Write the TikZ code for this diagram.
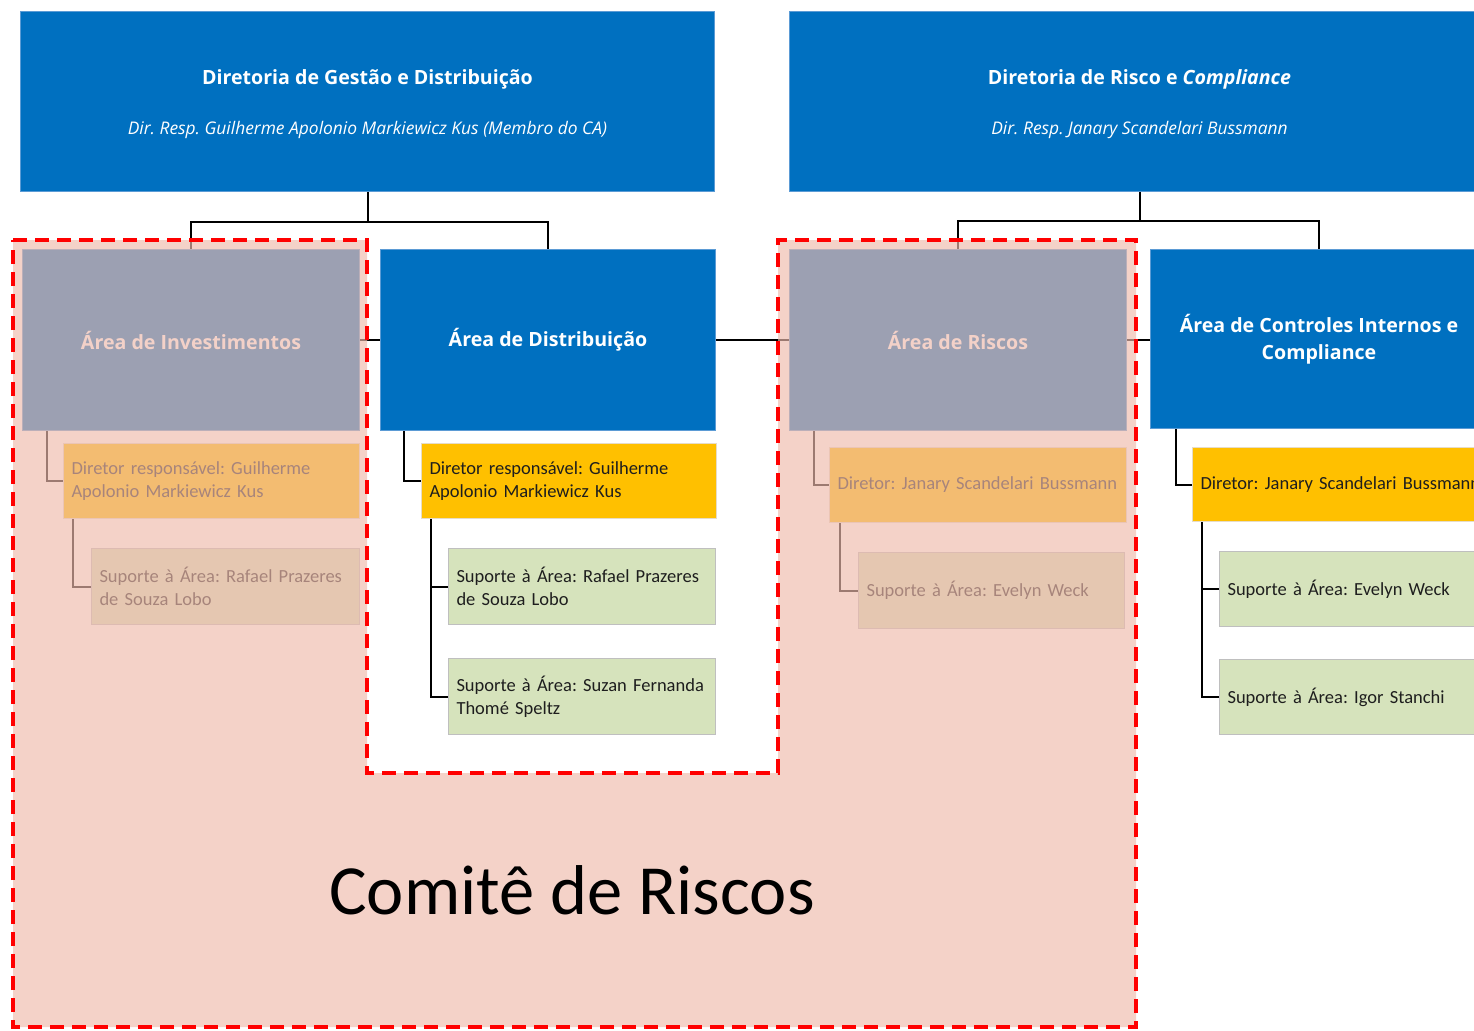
\documentclass[tikz,border=0pt]{standalone}
\usepackage{fontspec}
\setmainfont{Carlito}
\newfontfamily\titlefont{Open Sans}
\usetikzlibrary{calc}
\definecolor{cblue}{RGB}{0,112,192}
\definecolor{cblueb}{RGB}{91,155,213}
\definecolor{cyel}{RGB}{255,192,0}
\definecolor{cyelb}{RGB}{230,220,200}
\definecolor{cgreen}{RGB}{214,227,188}
\definecolor{cgreenb}{RGB}{191,191,191}
\definecolor{ctxt}{RGB}{30,30,30}
\definecolor{cpink}{RGB}{238,186,172}
\definecolor{cred}{RGB}{255,0,0}
\tikzset{
  conn/.style={draw=black, line width=2pt},
  anybox/.style={rectangle, anchor=north west, inner xsep=8pt, inner ysep=0pt, line width=1pt},
  topbox/.style={anybox, fill=cblue, draw=cblueb, text=white, align=center, font=\titlefont\fontsize{19.6}{24}\selectfont\bfseries},
  areabox/.style={anybox, fill=cblue, draw=cblueb, text=white, align=center, font=\titlefont\fontsize{19.6}{27}\selectfont\bfseries},
  dirbox/.style={anybox, fill=cyel, draw=cyelb, text=ctxt, align=left, font=\fontsize{18.5}{23}\selectfont},
  supbox/.style={anybox, fill=cgreen, draw=cgreenb, text=ctxt, align=left, font=\fontsize{18.5}{23}\selectfont},
  comite/.style={draw=cred, line width=4pt, dash pattern=on 14pt off 8pt},
}
\begin{document}
\frenchspacing
\begin{tikzpicture}[x=1pt,y=-1pt]
\useasboundingbox (0,0) rectangle (1474,1030);
\clip (0,0) rectangle (1474,1030);
% top level
\node[topbox, minimum width=694, minimum height=180] (top1) at (20,11)
  {\rule{0pt}{20pt}Diretoria de Gestão e Distribuição\\[26pt]{\fontsize{17.4}{20}\selectfont\mdseries\itshape Dir. Resp. Guilherme Apolonio Markiewicz Kus (Membro do CA)}};
\node[topbox, minimum width=700, minimum height=180] (top2) at (789,11)
  {\rule{0pt}{20pt}Diretoria de Risco e \textit{Compliance}\\[26pt]{\fontsize{17.4}{20}\selectfont\mdseries\itshape Dir. Resp. Janary Scandelari Bussmann}};
% level 2
\node[areabox, minimum width=337, minimum height=181] (inv) at (22,249) {Área de Investimentos};
\node[areabox, minimum width=335, minimum height=181] (dist) at (380,249) {Área de Distribuição};
\node[areabox, minimum width=337, minimum height=181] (risk) at (789,249) {Área de Riscos};
\node[areabox, minimum width=337, minimum height=179] (ctrl) at (1150,249) {Área de Controles Internos e\\Compliance};
% level 3
\node[dirbox, minimum width=296, minimum height=75, text width=280] (invdir) at (63,443) {Diretor responsável: Guilherme\\Apolonio Markiewicz Kus};
\node[dirbox, minimum width=295, minimum height=75, text width=279] (distdir) at (421,443) {Diretor responsável: Guilherme\\Apolonio Markiewicz Kus};
\node[dirbox, minimum width=297, minimum height=75, text width=281] (riskdir) at (829,447) {Diretor: Janary Scandelari Bussmann};
\node[dirbox, minimum width=295, minimum height=74, text width=279] (ctrldir) at (1192,447) {\mbox{Diretor: Janary Scandelari Bussmann}};
% level 4
\node[supbox, minimum width=268, minimum height=76, text width=252] (invsup) at (91,548) {Suporte à Área: Rafael Prazeres\\de Souza Lobo};
\node[supbox, minimum width=267, minimum height=76, text width=251] (distsup1) at (448,548) {Suporte à Área: Rafael Prazeres\\de Souza Lobo};
\node[supbox, minimum width=267, minimum height=76, text width=251] (distsup2) at (448,658) {Suporte à Área: Suzan Fernanda\\Thomé Speltz};
\node[supbox, minimum width=266, minimum height=76, text width=250] (risksup) at (858,552) {Suporte à Área: Evelyn Weck};
\node[supbox, minimum width=267, minimum height=75, text width=251] (ctrlsup1) at (1219,551) {Suporte à Área: Evelyn Weck};
\node[supbox, minimum width=267, minimum height=75, text width=251] (ctrlsup2) at (1219,659) {Suporte à Área: Igor Stanchi};
% connectors
\coordinate (j1) at ($(top1.south)+(0,30)$);
\coordinate (j2) at ($(top2.south)+(0,29)$);
\draw[conn] (top1.south) -- (j1) -| (inv.north);
\draw[conn] (j1) -| (dist.north);
\draw[conn] (top2.south) -- (j2) -| (risk.north);
\draw[conn] (j2) -| (ctrl.north);
\draw[conn] (inv.east) -- (dist.west);
\draw[conn] (dist.east) -- (risk.west);
\draw[conn] (risk.east) -- (ctrl.west |- risk.east);
\draw[conn] ([xshift=25pt]inv.south west) |- (invdir.west);
\draw[conn] ([xshift=24pt]dist.south west) |- (distdir.west);
\draw[conn] ([xshift=25pt]risk.south west) |- (riskdir.west);
\draw[conn] ([xshift=26pt]ctrl.south west) |- (ctrldir.west);
\draw[conn] ([xshift=10pt]invdir.south west) |- (invsup.west);
\draw[conn] ([xshift=10pt]distdir.south west) |- (distsup1.west);
\draw[conn] ([xshift=10pt]distdir.south west) |- (distsup2.west);
\draw[conn] ([xshift=11pt]riskdir.south west) |- (risksup.west);
\draw[conn] ([xshift=10pt]ctrldir.south west) |- (ctrlsup1.west);
\draw[conn] ([xshift=10pt]ctrldir.south west) |- (ctrlsup2.west);
% committee overlay
\fill[cpink, fill opacity=0.66] (13,240) -- (367,240) -- (367,773) -- (778,773) -- (778,240) -- (1136,240) -- (1136,1027) -- (13,1027) -- cycle;
\node[font=\fontsize{70.5}{80}\selectfont, text=black] (comtxt) at (572,890) {Comitê de Riscos};
\draw[comite] (13,240) -- (367,240) -- (367,773) -- (778,773) -- (778,240) -- (1136,240) -- (1136,1027) -- (13,1027) -- cycle;
\end{tikzpicture}
\end{document}
